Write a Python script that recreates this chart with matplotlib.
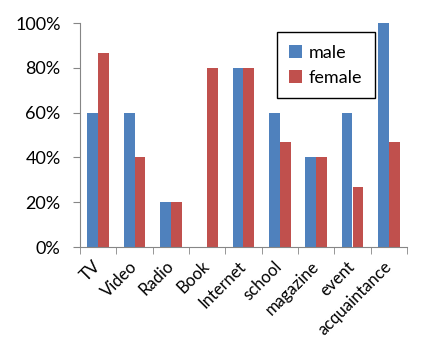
import matplotlib
matplotlib.use("Agg")
import matplotlib.pyplot as plt
import numpy as np
from matplotlib.ticker import FixedLocator

# --- Data ---
categories = ["TV", "Video", "Radio", "Book", "Internet", "school",
              "magazine", "event", "acquaintance"]
male = [60, 60, 20, 0, 80, 60, 40, 60, 100]
female = [86.7, 40, 20, 80, 80, 46.7, 40, 26.7, 46.7]

plt.rcParams['font.family'] = ['Lato', 'DejaVu Sans']

fig = plt.figure(figsize=(4.29, 3.5), dpi=100)
ax = fig.add_axes([80 / 429, 1 - 247 / 350, 327 / 429, 224 / 350])

x = np.arange(len(categories))
w = 0.3
ax.bar(x - w / 2, male, w, color='#4F81BD', label='male')
ax.bar(x + w / 2, female, w, color='#C0504D', label='female')

ax.set_xlim(-0.5, len(categories) - 0.5)
ax.set_ylim(0, 100)
ax.set_yticks([0, 20, 40, 60, 80, 100])
ax.set_yticklabels([f"{v}%" for v in [0, 20, 40, 60, 80, 100]], fontsize=13)

ax.set_xticks(x)
ax.set_xticklabels(categories, fontsize=12, rotation=45, ha='right',
                   rotation_mode='anchor', va='center')
ax.tick_params(axis='x', which='major', length=0, pad=12)
ax.xaxis.set_minor_locator(FixedLocator(np.arange(-0.5, len(categories), 1)))
ax.tick_params(axis='x', which='minor', length=5, color='#868686')
ax.tick_params(axis='y', length=5, color='#868686', pad=9)

for s in ['top', 'right']:
    ax.spines[s].set_visible(False)
for s in ['left', 'bottom']:
    ax.spines[s].set_color('#868686')

leg = ax.legend(loc='upper left', bbox_to_anchor=(0.602, 0.96), fontsize=13,
                fancybox=False, edgecolor='black', framealpha=1,
                handlelength=0.7, handleheight=0.7, handletextpad=0.35,
                borderpad=0.7, labelspacing=0.5, borderaxespad=0)
leg.get_frame().set_linewidth(1)

fig.savefig("out.png", dpi=100)
